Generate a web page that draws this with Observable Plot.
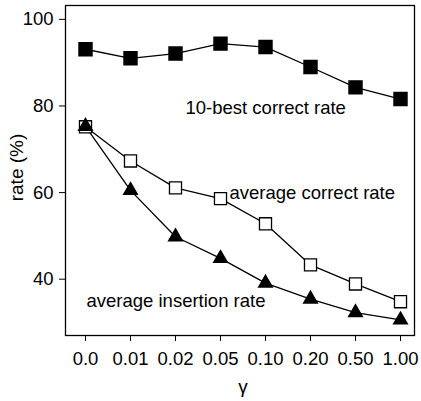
<!DOCTYPE html>
<html><head><meta charset="utf-8">
<script src="https://cdn.jsdelivr.net/npm/d3@7"></script>
<script src="https://cdn.jsdelivr.net/npm/@observablehq/plot@0.6"></script>
<style>body{margin:0;background:#fff}</style>
</head><body><div id="chart"></div>
<script>
const gammas = ["0.0","0.01","0.02","0.05","0.10","0.20","0.50","1.00"];
const best10 = [93.1,91.0,92.1,94.4,93.6,89.0,84.3,81.6];
const avgCorrect = [75.2,67.3,61.1,58.6,52.8,43.3,38.9,34.8];
const avgInsertion = [75.3,60.5,49.8,44.8,39.1,35.4,32.3,30.6];
const yTicks = [40,60,80,100];
const seriesLabels = ["10-best correct rate","average correct rate","average insertion rate"];
const labelGamma = ["0.02","0.05","0.0"];
const labelValue = [79.5,60,35];
const yTitle = "rate (%)";
const xTitle = "γ";

const toRows = arr => gammas.map((g,i)=>({g, v:arr[i]}));
const best = toRows(best10), corr = toRows(avgCorrect), ins = toRows(avgInsertion);
const labels = seriesLabels.map((t,i)=>({t, g:labelGamma[i], v:labelValue[i]}));
const labelDx = [10,9,1];

const chart = Plot.plot({
  width:421, height:401,
  marginLeft:65, marginRight:7, marginTop:5, marginBottom:66,
  style:{fontFamily:"'Liberation Sans', Arial, sans-serif", fontSize:"18px", color:"black", background:"white"},
  x:{type:"point", domain:gammas, range:[82,402], padding:0, label:null},
  y:{domain:[27,103.2], label:null},
  marks:[
    Plot.frame({stroke:"black", strokeWidth:1.3}),
    Plot.axisX({tickSize:6, tickPadding:10, fontSize:18.5, label:null}),
    Plot.axisY({ticks:yTicks, tickSize:6, tickPadding:6, fontSize:18.5, label:null}),
    Plot.line(best, {x:"g", y:"v", stroke:"black", strokeWidth:1.3}),
    Plot.line(corr, {x:"g", y:"v", stroke:"black", strokeWidth:1.3}),
    Plot.line(ins, {x:"g", y:"v", stroke:"black", strokeWidth:1.3}),
    Plot.dot(best, {x:"g", y:"v", symbol:"square", r:7.3, fill:"black", stroke:"black"}),
    Plot.dot(corr, {x:"g", y:"v", symbol:"square", r:6.8, fill:"white", stroke:"black", strokeWidth:1.3}),
    Plot.dot(ins, {x:"g", y:"v", symbol:"triangle", r:5, fill:"black", stroke:"black"}),
    ...labels.map((d,i)=>Plot.text([d], {x:"g", y:"v", text:"t", textAnchor:"start", dx:labelDx[i], fontSize:18.5, fill:"black"})),
    Plot.text([yTitle], {frameAnchor:"left", textAnchor:"middle", lineAnchor:"middle", dx:-49, dy:-3, rotate:-90, fontSize:19, fill:"black"}),
    Plot.text([xTitle], {frameAnchor:"bottom", textAnchor:"middle", lineAnchor:"middle", dx:3, dy:51, fontSize:19, fill:"black"})
  ]
});
document.getElementById("chart").append(chart);
</script>
</body></html>
